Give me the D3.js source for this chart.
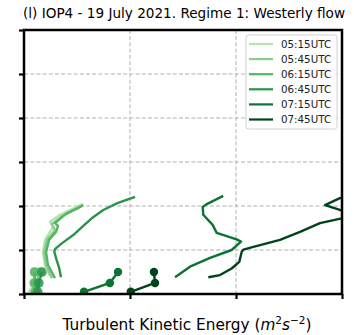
<!DOCTYPE html>
<html>
<head>
<meta charset="utf-8">
<script src="https://cdn.jsdelivr.net/npm/d3@7"></script>
<style>
  html, body { margin: 0; padding: 0; background: #fff; }
  svg { display: block; font-family: "DejaVu Sans", sans-serif; }
</style>
</head>
<body>
<svg id="chart" width="354" height="335"></svg>
<script>
// Profile times and their colours (Greens colormap)
const times = ["05:15UTC", "05:45UTC", "06:15UTC", "06:45UTC", "07:15UTC", "07:45UTC"];
const colors = ["#b8e3b1", "#8ace88", "#53b466", "#2a934b", "#0b7432", "#00441b"];

// Upper-air profiles: [TKE, height]
const profile0515 = [[0.245,0.41],[0.198,0.66],[0.179,0.95],[0.198,1.23],[0.245,1.41],[0.274,1.52],[0.245,1.64],[0.34,1.8],[0.434,1.91],[0.557,2.05]];
const profile0545 = [[0.264,0.36],[0.208,0.64],[0.189,0.95],[0.217,1.23],[0.292,1.45],[0.264,1.59],[0.358,1.77],[0.481,1.93],[0.557,2.02]];
const profile0615 = [[0.292,0.36],[0.226,0.66],[0.208,0.95],[0.236,1.23],[0.302,1.41],[0.321,1.55],[0.292,1.61],[0.396,1.82],[0.509,1.95],[0.557,2.02]];
const profile0645 = [[0.349,0.38],[0.333,0.58],[0.308,0.77],[0.286,0.96],[0.292,1.02],[0.356,1.15],[0.465,1.34],[0.559,1.55],[0.639,1.72],[0.748,1.91],[0.875,2.06],[1.047,2.21]];
const profile0715 = [[1.425,0.38],[1.566,0.62],[1.755,0.82],[1.959,1.0],[2.047,1.19],[2.006,1.24],[1.818,1.39],[1.78,1.57],[1.691,1.8],[1.686,1.98],[1.729,2.05],[1.88,2.23]];
const profile0745 = [[1.739,0.38],[1.849,0.43],[1.959,0.58],[2.031,0.73],[2.054,0.96],[2.07,1.01],[2.164,1.07],[2.415,1.23],[2.604,1.41],[2.792,1.61],[2.997,1.72],[3.1,1.85],[2.98,1.91],[2.84,2.02],[2.98,2.18],[3.15,2.3]];

// Near-surface tower levels: [TKE, height]
const tower0515 = [[0.08,0.05],[0.09,0.25],[0.1,0.5]];
const tower0545 = [[0.1,0.05],[0.11,0.25],[0.15,0.5]];
const tower0615 = [[0.11,0.05],[0.1,0.25],[0.1,0.5]];
const tower0645 = [[0.13,0.05],[0.14,0.25],[0.17,0.5]];
const tower0715 = [[0.566,0.05],[0.81,0.25],[0.887,0.5]];
const tower0745 = [[1.007,0.05],[1.236,0.25],[1.226,0.5]];

const profiles = [profile0515, profile0545, profile0615, profile0645, profile0715, profile0745];
const towers = [tower0515, tower0545, tower0615, tower0645, tower0715, tower0745];

const xTicks = [0, 1, 2, 3];
const yTicks = [0, 1, 2, 3, 4, 5, 6];

const title = "(l) IOP4 - 19 July 2021. Regime 1: Westerly flow";

const margin = { left: 24, top: 30, right: 12, bottom: 41 };
const W = 354, H = 335;
const pw = W - margin.left - margin.right;
const ph = H - margin.top - margin.bottom;

const svg = d3.select("#chart");
const x = d3.scaleLinear().domain([0, 3]).range([margin.left, margin.left + pw]);
const y = d3.scaleLinear().domain([0, 6]).range([margin.top + ph, margin.top]);

svg.append("defs").append("clipPath").attr("id", "plotclip")
  .append("rect").attr("x", margin.left).attr("y", margin.top).attr("width", pw).attr("height", ph);

// Grid
const grid = svg.append("g").attr("stroke", "#b0b0b0").attr("stroke-width", 1)
  .attr("stroke-dasharray", "4,2.2");
grid.selectAll("line.gx").data(xTicks).join("line")
  .attr("x1", d => x(d)).attr("x2", d => x(d))
  .attr("y1", margin.top).attr("y2", margin.top + ph);
grid.selectAll("line.gy").data(yTicks).join("line")
  .attr("x1", margin.left).attr("x2", margin.left + pw)
  .attr("y1", d => y(d)).attr("y2", d => y(d));

// Data
const plot = svg.append("g").attr("clip-path", "url(#plotclip)");
const line = d3.line().x(d => x(d[0])).y(d => y(d[1]));

towers.forEach((t, i) => {
  plot.append("path").datum(t).attr("d", line)
    .attr("fill", "none").attr("stroke", colors[i]).attr("stroke-width", 2.4);
  plot.selectAll(null).data(t).join("circle")
    .attr("cx", d => x(d[0])).attr("cy", d => y(d[1])).attr("r", i < 4 ? 4.8 : 4.2)
    .attr("fill", colors[i]).attr("fill-opacity", i < 4 ? 0.85 : 1);
});
profiles.forEach((p, i) => {
  plot.append("path").datum(p).attr("d", line)
    .attr("fill", "none").attr("stroke", colors[i]).attr("stroke-width", 2.4)
    .attr("stroke-linejoin", "round");
});

// Axes (ticks only, no labels)
const xAxis = d3.axisBottom(x).tickValues(xTicks).tickSize(5).tickFormat("");
const yAxis = d3.axisLeft(y).tickValues(yTicks).tickSize(5).tickFormat("");
const gx = svg.append("g").attr("transform", `translate(0,${margin.top + ph})`).call(xAxis);
const gy = svg.append("g").attr("transform", `translate(${margin.left},0)`).call(yAxis);
[gx, gy].forEach(g => {
  g.select(".domain").remove();
  g.selectAll(".tick line").attr("stroke", "#000").attr("stroke-width", 2.2);
});

// Frame
svg.append("rect").attr("x", margin.left).attr("y", margin.top)
  .attr("width", pw).attr("height", ph)
  .attr("fill", "none").attr("stroke", "#000").attr("stroke-width", 2.5);

// Legend
const lg = svg.append("g");
const lx = 246, ly = 35, lw = 91, lh = 94;
lg.append("rect").attr("x", lx).attr("y", ly).attr("width", lw).attr("height", lh)
  .attr("rx", 2.5).attr("fill", "#fff").attr("fill-opacity", 0.85)
  .attr("stroke", "#d0d0d0").attr("stroke-width", 1);
times.forEach((t, i) => {
  const yy = 44 + i * 15.1;
  lg.append("line").attr("x1", 249).attr("x2", 273).attr("y1", yy).attr("y2", yy)
    .attr("stroke", colors[i]).attr("stroke-width", 2.2);
  lg.append("text").attr("x", 281).attr("y", yy).attr("dy", "0.36em")
    .attr("font-size", 10.3).attr("fill", "#222").text(t);
});

// Title
svg.append("text").attr("x", 184).attr("y", 18).attr("text-anchor", "middle")
  .attr("font-size", 13.6).attr("fill", "#000").text(title);

// X-axis label with superscripts
const xl = svg.append("text").attr("x", 187).attr("y", 330).attr("text-anchor", "middle")
  .attr("font-size", 15.3).attr("fill", "#000");
xl.append("tspan").text("Turbulent Kinetic Energy (");
xl.append("tspan").attr("font-style", "italic").text("m");
xl.append("tspan").attr("font-size", 10.5).attr("dy", -6.5).text("2");
xl.append("tspan").attr("font-style", "italic").attr("dy", 6.5).text("s");
xl.append("tspan").attr("font-size", 10.5).attr("dy", -6.5).text("\u22122");
xl.append("tspan").attr("dy", 6.5).text(")");
</script>
</body>
</html>
